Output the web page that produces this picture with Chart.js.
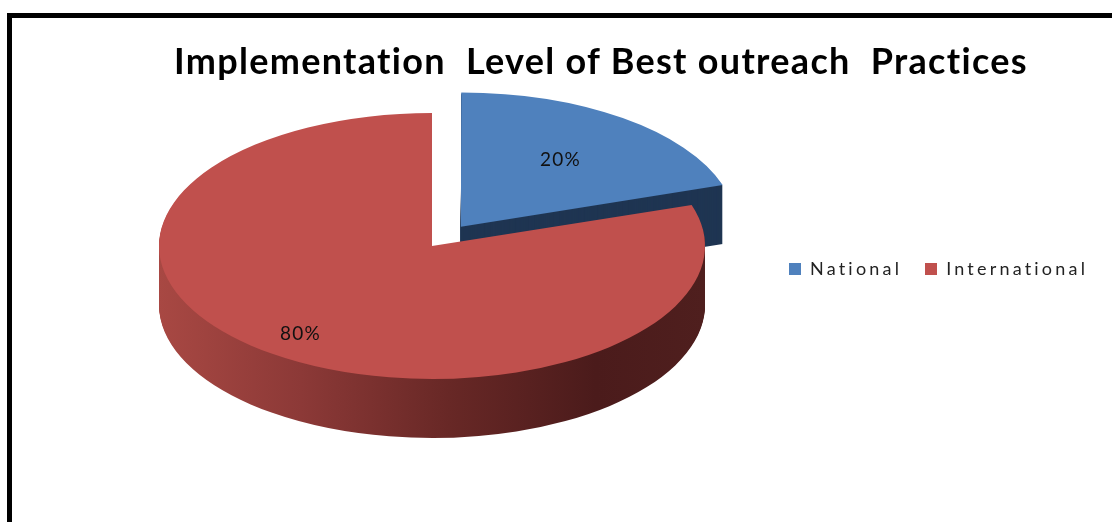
<!DOCTYPE html>
<html><head><meta charset="utf-8">
<script src="https://cdn.jsdelivr.net/npm/chart.js@4.4.1/dist/chart.umd.min.js"></script>
<style>
html,body{margin:0;padding:0;background:#fff;width:1112px;height:522px;overflow:hidden}
#frame{position:absolute;left:7px;top:13px;width:1200px;height:600px;border-left:5px solid #000;border-top:5px solid #000}
#title{position:absolute;left:0;width:1202px;top:40px;text-align:center;font:bold 36px Lato;letter-spacing:1.3px;font-variant-ligatures:none;line-height:40px;white-space:pre;color:#000}
#wrap{position:absolute;left:0;top:0;width:1112px;height:522px}
#legend{position:absolute;left:789px;top:256px;font:18px Lato;letter-spacing:3.2px;color:#222;white-space:nowrap;line-height:24px}
#legend span.item{display:inline-block;margin-right:23px}
#legend span.box{display:inline-block;width:12px;height:12px;margin-right:9px;vertical-align:0px}
</style></head>
<body>
<div id="frame"></div>
<div id="wrap"><canvas id="c" width="1112" height="522"></canvas></div>
<div id="title"></div>
<div id="legend"></div>
<script>
const titleText = 'Implementation  Level of Best outreach  Practices';
const categories = ['National', 'International'];
const values = [20, 80];
const labelsText = ['20%', '80%'];
const topColors = ['#4F81BD', '#C0504D'];
const sideColors = ['#1F3552', null];
const redSideStops = [[0, '#A84843'], [0.26, '#8C3937'], [0.53, '#682826'], [0.8, '#4B1B1B'], [1, '#4F1F1E']];
const explode = [72, 0];
const labelFrac = [0.62, 0.82];

document.getElementById('title').textContent = titleText;
const lg = document.getElementById('legend');
categories.forEach((c, i) => {
  const it = document.createElement('span'); it.className = 'item';
  const b = document.createElement('span'); b.className = 'box'; b.style.background = topColors[i];
  it.appendChild(b); it.appendChild(document.createTextNode(c)); lg.appendChild(it);
});

function applyT(ctx, cx, cy, kx, ky) {
  ctx.translate(cx, cy); ctx.scale(kx, ky); ctx.translate(-cx, -cy);
}

const pie3d = {
  id: 'pie3d',
  beforeDatasetsDraw(chart, args, opts) {
    const ctx = chart.ctx;
    const meta = chart.getDatasetMeta(0);
    const el0 = meta.data[0];
    const cx = el0.x, cy = el0.y, R = el0.outerRadius;
    const kx = opts.rx / R, ky = opts.ry / R;
    chart.$pie = {cx, cy, kx, ky, R};
    const grad = ctx.createLinearGradient(cx - R, 0, cx + R, 0);
    redSideStops.forEach(s => grad.addColorStop(s[0], s[1]));
    for (let d = opts.depth; d >= 1; d--) {
      ctx.save();
      ctx.translate(0, d);
      applyT(ctx, cx, cy, kx, ky);
      meta.data.forEach((el, i) => {
        const saved = el.options;
        el.options = Object.assign({}, saved, {backgroundColor: sideColors[i] || grad, borderWidth: 0});
        el.draw(ctx);
        el.options = saved;
      });
      ctx.restore();
    }
    ctx.save();
    applyT(ctx, cx, cy, kx, ky);
  },
  afterDatasetsDraw(chart, args, opts) {
    const ctx = chart.ctx;
    ctx.restore();
    const {cx, cy, kx, ky, R} = chart.$pie;
    const meta = chart.getDatasetMeta(0);
    ctx.save();
    ctx.font = opts.font;
    ctx.fillStyle = '#111';
    ctx.textAlign = 'center';
    ctx.textBaseline = 'middle';
    if ('letterSpacing' in ctx) ctx.letterSpacing = '1.2px';
    meta.data.forEach((el, i) => {
      const half = (el.startAngle + el.endAngle) / 2;
      const off = (el.options.offset || 0) / 4;
      const r = R * labelFrac[i] + off;
      const px = cx + Math.cos(half) * r * kx;
      const py = cy + Math.sin(half) * r * ky;
      ctx.fillText(labelsText[i], px, py);
    });
    ctx.restore();
  }
};

new Chart(document.getElementById('c'), {
  type: 'pie',
  data: {
    labels: categories,
    datasets: [{
      data: values,
      backgroundColor: topColors,
      borderWidth: 0,
      offset: explode,
      hoverOffset: 0,
      clip: false
    }]
  },
  options: {
    responsive: false,
    animation: false,
    events: [],
    radius: 100,
    layout: {padding: {left: 0, right: 248, top: 0, bottom: 30}},
    plugins: {
      legend: {display: false},
      tooltip: {enabled: false},
      title: {display: false},
      pie3d: {rx: 273, ry: 133, depth: 59, font: '19px Lato'}
    }
  },
  plugins: [pie3d]
});
</script>
</body></html>
